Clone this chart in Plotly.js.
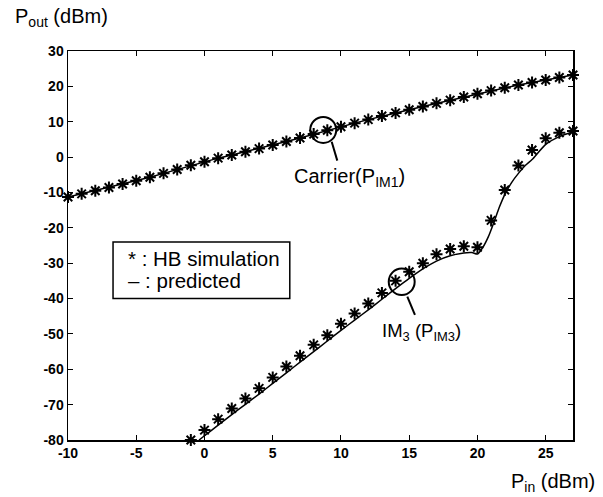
<!DOCTYPE html>
<html>
<head>
<meta charset="utf-8">
<script src="https://cdn.plot.ly/plotly-3.0.1.min.js"></script>
<style>
html,body{margin:0;padding:0;background:#fff;}
#chart{width:603px;height:497px;}
</style>
</head>
<body>
<div id="chart"></div>
<script>
// Carrier (P_IM1): HB simulation points and predicted curve
const carrierX = [-10,-9,-8,-7,-6,-5,-4,-3,-2,-1,0,1,2,3,4,5,6,7,8,9,10,11,12,13,14,15,16,17,18,19,20,21,22,23,24,25,26,27];
const carrierSim = [-11.3,-10.4,-9.5,-8.6,-7.6,-6.7,-5.7,-4.6,-3.5,-2.3,-1.3,-0.3,0.6,1.5,2.4,3.4,4.4,5.4,6.5,7.6,8.6,9.6,10.6,11.6,12.5,13.4,14.3,15.2,16.1,17.0,17.9,18.8,19.6,20.4,21.1,21.8,22.5,23.2];
const carrierPred = [-11.3,-10.4,-9.5,-8.6,-7.6,-6.7,-5.7,-4.6,-3.5,-2.3,-1.3,-0.3,0.6,1.5,2.4,3.4,4.4,5.4,6.5,7.6,8.6,9.6,10.6,11.6,12.5,13.4,14.3,15.2,16.1,17.0,17.9,18.8,19.6,20.4,21.1,21.8,22.5,23.2];

// IM3 (P_IM3): HB simulation points
const im3X = [-1,0,1,2,3,4,5,6,7,8,9,10,11,12,13,14,15,16,17,18,19,20,21,22,23,24,25,26,27];
const im3Sim = [-80,-77.2,-74.1,-71.1,-68.3,-65.4,-62.3,-59.2,-56.2,-53.1,-50.4,-47.1,-44.2,-41.4,-38.4,-35.0,-32.4,-30.0,-27.5,-26.0,-25.2,-25.5,-17.9,-9.3,-2.4,2.0,5.3,6.9,7.4];

// IM3 predicted curve
const im3PredX = [-0.4,0,1,2,3,4,5,6,7,8,9,10,11,12,13,14,15,16,17,18,19,19.6,20,20.4,20.8,21.2,21.6,22,22.5,23,23.5,24,25,26,27];
const im3Pred = [-80,-78.8,-75.8,-72.8,-69.9,-67.0,-64.0,-61.0,-58.0,-55.0,-52.0,-49.0,-46.1,-43.2,-40.2,-37.2,-34.3,-31.6,-29.4,-27.9,-27.1,-27.0,-27.4,-25.5,-22.5,-18.5,-14.2,-10.6,-7.2,-4.6,-2.4,-0.7,3.6,5.8,7.2];

const xTicks = [-10,-5,0,5,10,15,20,25];
const yTicks = [-80,-70,-60,-50,-40,-30,-20,-10,0,10,20,30];

const FONT = '"Liberation Sans", Arial, Helvetica, sans-serif';
const starMarker = {symbol:'asterisk-open', size:10, color:'#000', line:{color:'#000', width:2}};

const traces = [
  {x:carrierX, y:carrierPred, mode:'lines', line:{color:'#000', width:1.5}, cliponaxis:false, hoverinfo:'skip'},
  {x:carrierX, y:carrierSim, mode:'markers', marker:starMarker, cliponaxis:false},
  {x:im3PredX, y:im3Pred, mode:'lines', line:{color:'#000', width:1.5, shape:'spline', smoothing:0.6}, cliponaxis:false, hoverinfo:'skip'},
  {x:im3X, y:im3Sim, mode:'markers', marker:starMarker, cliponaxis:false}
];

const axisCommon = {
  showline:true, linecolor:'#000', linewidth:1.5, mirror:'ticks',
  ticks:'inside', ticklen:5, tickwidth:1, tickcolor:'#000',
  showgrid:false, zeroline:false,
  tickfont:{family:FONT, size:14, color:'#000', weight:'bold'}
};

const layout = {
  width:603, height:497,
  margin:{l:68, r:30, t:51, b:57},
  paper_bgcolor:'#fff', plot_bgcolor:'#fff',
  showlegend:false,
  font:{family:FONT, color:'#000'},
  xaxis:Object.assign({}, axisCommon, {range:[-10,27], tickmode:'array', tickvals:xTicks, ticktext:xTicks.map(String)}),
  yaxis:Object.assign({}, axisCommon, {range:[-80,30], tickmode:'array', tickvals:yTicks, ticktext:yTicks.map(String)}),
  shapes:[
    {type:'rect', xref:'x', yref:'y', x0:-6.7, x1:6.25, y0:-40, y1:-24, line:{color:'#000', width:1.5}, fillcolor:'#fff', layer:'below'},
    {type:'circle', xref:'x', yref:'y', x0:7.75, x1:9.65, y0:4.0, y1:11.35, line:{color:'#000', width:2}},
    {type:'line', xref:'x', yref:'y', x0:9.32, y0:4.36, x1:9.73, y1:-1.0, line:{color:'#000', width:2}},
    {type:'circle', xref:'x', yref:'y', x0:13.5, x1:15.4, y0:-39.0, y1:-31.5, line:{color:'#000', width:2}},
    {type:'line', xref:'x', yref:'y', x0:14.86, y0:-39.47, x1:15.42, y1:-44.65, line:{color:'#000', width:2}}
  ],
  annotations:[
    {xref:'x', yref:'y', x:-5.75, y:-28.6, xanchor:'left', yanchor:'middle', showarrow:false, text:'* : HB simulation', font:{family:FONT, size:20.5, color:'#000'}},
    {xref:'x', yref:'y', x:-5.75, y:-34.8, xanchor:'left', yanchor:'middle', showarrow:false, text:'\u2013 : predicted', font:{family:FONT, size:20.5, color:'#000'}},
    {xref:'x', yref:'y', x:10.59, y:-5.9, xanchor:'center', yanchor:'middle', showarrow:false, text:'Carrier(P<sub>IM1</sub>)', font:{family:FONT, size:20, color:'#000'}},
    {xref:'x', yref:'y', x:15.93, y:-49.5, xanchor:'center', yanchor:'middle', showarrow:false, text:'IM<sub>3</sub> (P<sub>IM3</sub>)', font:{family:FONT, size:18.5, color:'#000'}},
    {xref:'paper', yref:'paper', x:-0.109, y:1.087, xanchor:'left', yanchor:'middle', showarrow:false, text:'P<sub>out</sub> (dBm)', font:{family:FONT, size:20, color:'#000'}},
    {xref:'paper', yref:'paper', x:1.0475, y:-0.108, xanchor:'right', yanchor:'middle', showarrow:false, text:'P<sub>in</sub> (dBm)', font:{family:FONT, size:20, color:'#000'}}
  ]
};

Plotly.newPlot('chart', traces, layout, {staticPlot:true, displayModeBar:false});
</script>
</body>
</html>
